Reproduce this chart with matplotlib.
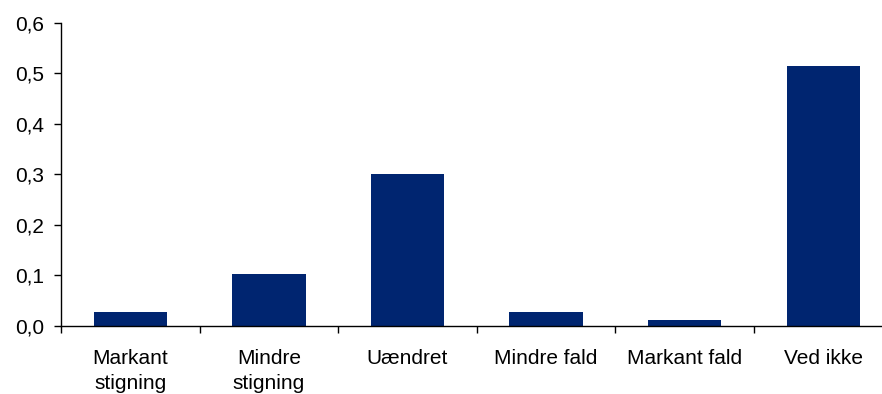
import matplotlib
matplotlib.use("Agg")
import matplotlib.pyplot as plt
import numpy as np

categories = ["Markant\nstigning", "Mindre\nstigning", "Uændret", "Mindre fald", "Markant fald", "Ved ikke"]
values = [0.028, 0.103, 0.301, 0.028, 0.011, 0.515]
yticks = [0.0, 0.1, 0.2, 0.3, 0.4, 0.5, 0.6]
ytick_labels = ["0,0", "0,1", "0,2", "0,3", "0,4", "0,5", "0,6"]

plt.rcParams['font.family'] = ['Liberation Sans', 'DejaVu Sans']

fig = plt.figure(figsize=(8.82, 3.94), dpi=100)
ax = fig.add_axes([61/882, 68.3/394, (892.6-61)/882, (325.7-23)/394])

x = np.arange(len(categories))
ax.bar(x, values, width=0.53, color="#002570")

ax.set_xlim(-0.5, len(categories) - 0.5)
ax.set_ylim(0, 0.6)
ax.set_yticks(yticks)
ax.set_yticklabels(ytick_labels, fontsize=15)
ax.set_xticks(x)
ax.set_xticklabels(categories, fontsize=15, linespacing=1.4)
ax.set_xticks(np.arange(len(categories) + 1) - 0.5, minor=True)
ax.tick_params(axis='x', which='major', length=0, pad=17)
ax.tick_params(axis='x', which='minor', length=5, width=1, direction='out')
ax.tick_params(axis='y', length=5, width=1, direction='out', pad=7)

for s in ["top", "right"]:
    ax.spines[s].set_visible(False)
for s in ["left", "bottom"]:
    ax.spines[s].set_linewidth(1.0)
    ax.spines[s].set_color("black")

fig.savefig("out.png", dpi=100)
